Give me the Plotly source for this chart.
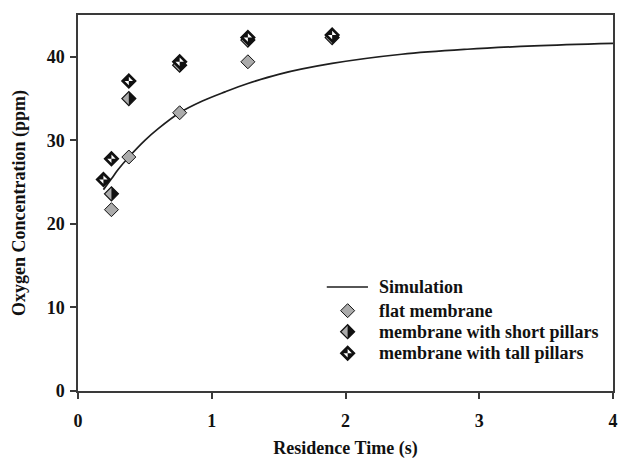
import plotly.graph_objects as go

# ---------------- data ----------------
sim_x = [0.19, 0.25, 0.30, 0.38, 0.50, 0.60, 0.76, 0.93, 1.10, 1.27, 1.50, 1.90, 2.42, 2.91, 3.41, 4.00]
sim_y = [24.1, 25.4, 26.5, 28.0, 30.0, 31.4, 33.3, 34.7, 35.8, 36.8, 37.9, 39.2, 40.3, 40.9, 41.3, 41.6]

flat_x = [0.25, 0.38, 0.76, 1.27]
flat_y = [21.7, 28.0, 33.3, 39.4]

short_x = [0.25, 0.38, 0.76, 1.27, 1.90]
short_y = [23.6, 35.0, 39.0, 42.0, 42.3]

tall_x = [0.19, 0.25, 0.38, 0.76, 1.27, 1.90]
tall_y = [25.3, 27.8, 37.1, 39.4, 42.3, 42.6]

x_ticks = [0, 1, 2, 3, 4]
y_ticks = [0, 10, 20, 30, 40]

legend_labels = ["Simulation", "flat membrane",
                 "membrane with short pillars", "membrane with tall pillars"]

# ---------------- style ----------------
FONT = "Liberation Serif"
H = 7
GRAY = "#ababab"
BLACK = "#111111"
AXIS = "#3a3a3a"


def diamond(h):
    return f"M {-h} 0 L 0 {h} L {h} 0 L 0 {-h} Z"


def right_half(h):
    return f"M 0 {h} L {h} 0 L 0 {-h} Z"


def pinwheel_white(h):
    # upper-right and lower-left quadrants
    return f"M 0 0 L 0 {h} L {h} 0 Z M 0 0 L 0 {-h} L {-h} 0 Z"


def marker_shapes(kind, x, y, xref, yref):
    base = dict(type="path", xsizemode="pixel", ysizemode="pixel",
                xanchor=x, yanchor=y, xref=xref, yref=yref, layer="above")
    out = []
    if kind == "flat":
        out.append(dict(base, path=diamond(H), fillcolor=GRAY,
                        line=dict(color=BLACK, width=1)))
    elif kind == "short":
        out.append(dict(base, path=diamond(H), fillcolor=GRAY, line=dict(width=0)))
        out.append(dict(base, path=right_half(H), fillcolor=BLACK, line=dict(width=0)))
        out.append(dict(base, path=diamond(H), fillcolor="rgba(0,0,0,0)",
                        line=dict(color=BLACK, width=1.2)))
    else:
        out.append(dict(base, path=diamond(H), fillcolor=BLACK, line=dict(width=0)))
        out.append(dict(base, path=pinwheel_white(H - 2.8), fillcolor="white",
                        line=dict(width=0)))
        out.append(dict(base, path=diamond(H), fillcolor="rgba(0,0,0,0)",
                        line=dict(color=BLACK, width=1.4)))
    return out


fig = go.Figure()
fig.add_trace(go.Scatter(x=sim_x, y=sim_y, mode="lines", line_shape="spline",
                         line=dict(color="#1e1e1e", width=1.7),
                         name=legend_labels[0], showlegend=False,
                         hoverinfo="skip"))

shapes = []
for xv, yv in zip(flat_x, flat_y):
    shapes += marker_shapes("flat", xv, yv, "x", "y")
for xv, yv in zip(short_x, short_y):
    shapes += marker_shapes("short", xv, yv, "x", "y")
for xv, yv in zip(tall_x, tall_y):
    shapes += marker_shapes("tall", xv, yv, "x", "y")

# ---------------- hand-built legend ----------------
leg_sym_x = 0.504
leg_txt_x = 0.559
leg_rows_y = [0.2766, 0.2136, 0.1577, 0.1003]
shapes.append(dict(type="line", xref="paper", yref="paper",
                   x0=0.465, x1=0.542, y0=leg_rows_y[0], y1=leg_rows_y[0],
                   line=dict(color="#1e1e1e", width=1.7), layer="above"))
for kind, yv in zip(["flat", "short", "tall"], leg_rows_y[1:]):
    shapes += marker_shapes(kind, leg_sym_x, yv, "paper", "paper")

annotations = []
for lab, yv in zip(legend_labels, leg_rows_y):
    annotations.append(dict(text=lab, x=leg_txt_x, y=yv, xref="paper", yref="paper",
                            xanchor="left", yanchor="middle", showarrow=False,
                            font=dict(family=FONT, size=18, color=BLACK, weight="bold")))

fig.update_layout(
    width=619, height=459,
    margin=dict(l=78, r=6, t=15, b=68),
    paper_bgcolor="white", plot_bgcolor="white",
    showlegend=False,
    shapes=shapes,
    annotations=annotations,
    font=dict(family=FONT, size=18, color=BLACK, weight="bold"),
)
fig.update_xaxes(range=[0, 4], tickvals=x_ticks, ticktext=[str(v) for v in x_ticks],
                 automargin=False,
                 showgrid=False, zeroline=False, showline=True, mirror=True,
                 linecolor=AXIS, linewidth=1.5, ticks="outside", ticklen=6,
                 tickcolor=AXIS, tickwidth=1.5, ticklabelstandoff=7,
                 ticklabeloverflow="allow",
                 tickfont=dict(family=FONT, size=18, color=BLACK, weight="bold"),
                 title=dict(text="Residence Time (s)", standoff=12,
                            font=dict(family=FONT, size=18, color=BLACK, weight="bold")))
fig.update_yaxes(range=[0, 45], tickvals=y_ticks, ticktext=[str(v) for v in y_ticks],
                 automargin=False,
                 showgrid=False, zeroline=False, showline=True, mirror=True,
                 linecolor=AXIS, linewidth=1.5, ticks="outside", ticklen=6,
                 tickcolor=AXIS, tickwidth=1.5, ticklabelstandoff=2,
                 tickfont=dict(family=FONT, size=18, color=BLACK, weight="bold"),
                 title=dict(text="Oxygen Concentration (ppm)", standoff=16,
                            font=dict(family=FONT, size=18, color=BLACK, weight="bold")))

fig.write_html("out.html")
